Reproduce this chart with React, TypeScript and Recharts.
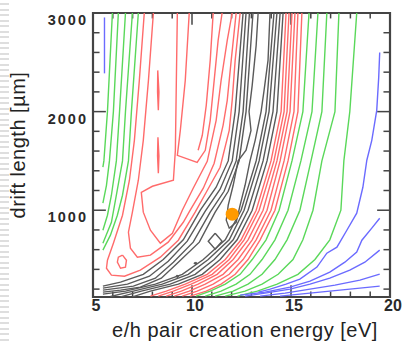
import React from 'react'
import { ComposedChart, Scatter, XAxis, YAxis, ReferenceLine, ReferenceArea } from 'recharts'

type Pt = [number, number]

// contour lines, [energy eV, drift length µm]
const grayLines: Pt[][] = [
  [[12.58, 3000], [12.18, 2000], [11.83, 1500], [11.22, 1233], [10.42, 1000], [9.56, 700], [8.55, 500], [7.54, 350], [6.39, 271], [5.5, 230]],
  [[12.73, 3000], [12.38, 2000], [12.03, 1500], [11.42, 1213], [10.67, 990], [9.76, 686], [8.8, 483], [7.85, 331], [6.74, 250], [5.5, 210]],
  [[12.9, 3000], [12.58, 2000], [12.23, 1500], [11.62, 1192], [10.92, 980], [10.06, 676], [9.06, 473], [8.15, 311], [7.04, 230], [5.5, 190]],
  [[13.08, 3000], [12.73, 2000], [12.38, 1500], [11.83, 1192], [11.17, 980], [10.37, 676], [9.31, 473], [8.45, 311], [7.39, 220], [6.39, 190], [5.5, 169]],
  // valley floor
  [[13.34, 3000], [13.24, 2672], [13.04, 2266], [12.88, 2000], [12.98, 1810], [12.73, 1608], [12.33, 1500], [12.08, 1253], [11.83, 1051], [11.73, 899], [11.88, 818],
   [12.23, 878], [12.43, 1051], [12.68, 1253], [12.93, 1500], [13.19, 1709], [13.49, 2000], [13.64, 2216], [13.84, 2520], [13.94, 3000]],
  [[11.17, 767], [11.52, 686], [11.17, 605], [10.82, 686], [11.17, 767]],
  [[10.18, 473], [10.24, 463], [10.18, 453], [10.12, 463], [10.18, 473]],
  [[9.26, 342], [9.31, 331], [9.26, 321], [9.21, 331], [9.26, 342]],
  [[14.14, 3000], [13.74, 2000], [13.24, 1500], [12.48, 1000], [11.68, 700], [10.57, 500], [9.51, 350], [8.15, 250], [6.64, 180], [5.5, 149]],
  [[14.29, 3000], [13.89, 2000], [13.39, 1500], [12.63, 1000], [11.88, 700], [10.82, 500], [9.81, 350], [8.5, 250], [7.04, 180], [5.88, 125]],
  [[14.45, 3000], [14.09, 2000], [13.59, 1500], [12.83, 1000], [12.08, 700], [11.12, 500], [10.16, 350], [8.9, 250], [7.44, 180], [6.39, 122]],
  [[14.6, 3000], [14.29, 2000], [13.79, 1500], [13.04, 1000], [12.28, 700], [11.42, 500], [10.52, 350], [9.31, 250], [7.9, 180], [6.99, 122]],
]

const redLines: Pt[][] = [
  [[7.59, 3000], [7.34, 2317], [7.09, 1709], [6.84, 1304], [6.49, 949], [6.03, 666], [5.73, 493], [5.68, 412], [5.93, 342], [6.59, 331], [7.39, 392],
   [8.4, 524], [9.31, 696], [10.16, 980], [10.72, 1182], [11.42, 1436], [11.88, 1810], [12.03, 2114], [12.18, 2520], [12.43, 3000]],
  [[8.05, 3000], [7.8, 2317], [7.54, 1709], [7.29, 1304], [6.99, 980], [6.79, 777], [6.89, 615], [7.24, 524], [7.9, 544], [8.8, 676], [9.56, 878],
   [9.91, 1000], [10.57, 1223], [11.12, 1476], [11.57, 1861], [11.78, 2114], [11.98, 2520], [12.23, 3000]],
  [[9.26, 3000], [9.21, 2317], [9.16, 1608], [9.06, 1304], [8.0, 1243], [7.44, 1182], [7.54, 980], [7.9, 797], [8.4, 666], [9.01, 767], [9.51, 1000],
   [10.06, 1223], [10.77, 1496], [11.22, 1912], [11.47, 2317], [11.78, 2722], [12.03, 3000]],
  [[9.86, 3000], [9.66, 2317], [9.41, 1810], [9.26, 1557], [10.26, 1486], [10.67, 1608], [10.92, 1912], [11.12, 2317], [11.32, 2722], [11.52, 3000]],
  [[11.07, 3000], [10.92, 2520], [10.72, 2064], [10.52, 1760], [10.31, 1608]],
  [[8.27, 2418], [8.33, 2200], [8.3, 2013], [8.26, 2200], [8.27, 2418]],
  [[8.28, 1740], [8.33, 1550], [8.3, 1375], [8.26, 1550], [8.28, 1740]],
  [[6.49, 544], [6.69, 493], [6.64, 423], [6.39, 412], [6.23, 473], [6.28, 524], [6.49, 544]],
  [[14.75, 3000], [14.5, 2000], [13.99, 1500], [13.24, 1000], [12.48, 700], [11.68, 500], [10.77, 350], [9.66, 250], [8.7, 180], [7.9, 129]],
  [[14.9, 3000], [14.65, 2000], [14.14, 1500], [13.39, 1000], [12.63, 700], [11.88, 500], [11.02, 350], [9.96, 250], [9.06, 180], [8.3, 129]],
  [[15.05, 3000], [14.8, 2000], [14.29, 1500], [13.59, 1000], [12.83, 700], [12.08, 500], [11.27, 350], [10.31, 250], [9.46, 180], [8.7, 129]],
  [[15.2, 3000], [14.95, 2000], [14.45, 1500], [13.79, 1000], [13.04, 700], [12.33, 500], [11.57, 350], [10.67, 250], [9.86, 180], [9.11, 129]],
  [[15.35, 3000], [15.15, 2000], [14.65, 1500], [13.99, 1000], [13.24, 700], [12.58, 500], [11.88, 350], [11.07, 250], [10.26, 180], [9.51, 129]],
  [[15.55, 3000], [15.35, 2000], [14.85, 1500], [14.19, 1000], [13.44, 700], [12.83, 500], [12.18, 350], [11.47, 250], [10.72, 180], [9.91, 129]],
]

const greenLines: Pt[][] = [
  [[5.98, 3000], [5.73, 2000], [5.55, 1500], [5.5, 1436]],
  [[6.28, 3000], [6.03, 2000], [5.83, 1500], [5.68, 1253], [5.5, 1071]],
  [[6.64, 3000], [6.34, 2000], [6.18, 1500], [5.93, 1152], [5.73, 949], [5.5, 797]],
  [[6.99, 3000], [6.64, 2000], [6.49, 1500], [6.18, 1152], [5.93, 878], [5.5, 666]],
  [[7.29, 3000], [6.94, 2000], [6.79, 1500], [6.49, 1152], [6.23, 949], [5.88, 747], [5.5, 595]],
  [[15.91, 3000], [15.6, 2000], [15.05, 1500], [14.4, 1000], [13.74, 700], [13.04, 500], [12.43, 350], [11.68, 250], [10.92, 180], [10.21, 129]],
  [[16.36, 3000], [16.06, 2000], [15.5, 1500], [14.85, 1000], [14.19, 700], [13.54, 500], [12.93, 350], [12.23, 250], [11.47, 180], [10.67, 129]],
  [[16.81, 3000], [16.56, 2000], [16.01, 1500], [15.45, 1000], [14.8, 700], [14.19, 500], [13.54, 350], [12.83, 250], [12.08, 180], [11.17, 129]],
  [[17.42, 3000], [17.22, 2000], [16.56, 1500], [16.11, 1000], [15.6, 700], [15.1, 500], [14.35, 350], [13.54, 250], [12.68, 180], [11.68, 129]],
  [[18.32, 3000], [17.97, 2000], [17.67, 1500], [17.52, 1000], [16.96, 700], [16.21, 500], [15.35, 350], [14.3, 250], [13.3, 180], [12.3, 129]],
]

const blueLines: Pt[][] = [
  [[5.58, 2955], [5.58, 2700], [5.58, 2388]],
  [[19.48, 2600], [19.43, 2347], [19.33, 2013], [19.08, 1709], [18.83, 1507], [18.63, 1233], [18.32, 970], [17.82, 797], [17.32, 625], [16.81, 564],
   [16.31, 423], [15.45, 301], [14.75, 250], [13.95, 200], [13.35, 169]],
  [[19.48, 919], [19.08, 818], [18.58, 696], [18.32, 575], [17.72, 473], [16.96, 372], [15.96, 281], [14.95, 220], [13.69, 169], [12.43, 139]],
  [[19.48, 595], [18.73, 473], [17.97, 392], [16.96, 311], [15.96, 250], [14.95, 200], [13.69, 159], [12.68, 129]],
  [[19.48, 352], [18.48, 291], [17.22, 240], [15.96, 200], [14.7, 159], [13.44, 129]],
  [[19.48, 230], [18.48, 210], [17.47, 190], [16.46, 169], [15.45, 149], [14.45, 129]],
]

const optimum = [{ x: 12.03, y: 960 }]

const xLabels = [5, 10, 15, 20]
const yLabels = [1000, 2000, 3000]
const xTickMarks = [6, 7, 8, 9, 10, 11, 12, 13, 14, 15, 16, 17, 18, 19]
const xMajor = [10, 15]
const yTickMarks = [200, 400, 600, 800, 1000, 1200, 1400, 1600, 1800, 2000, 2200, 2400, 2600, 2800]
const yMajor = [1000, 2000]

const X_DOMAIN: [number, number] = [5, 20]
const Y_DOMAIN: [number, number] = [120, 3000]

const FONT = "'Liberation Sans', Arial, Helvetica, sans-serif"
const AXIS = '#444'
const COLORS = { gray: '#5a5a5a', red: '#ff6b6b', green: '#5ad85a', blue: '#6b6bff' }

const toPoints = (pts: Pt[]) => pts.map(([x, y]) => ({ x, y }))
const noDot = () => <g />

const XTick = (p: any) => (
  <text x={p.x + 3} y={p.y} dy="0.71em" textAnchor="middle" fontSize={16} fontWeight="bold" fontFamily={FONT} fill="#2a2a2a">
    {p.payload.value}
  </text>
)

const YTick = (p: any) => (
  <text x={p.x} y={p.y + 12} textAnchor="end" fontSize={14.5} fontWeight="bold" letterSpacing={2} fontFamily={FONT} fill="#2a2a2a">
    {p.payload.value}
  </text>
)

const xTitle = (p: any) => {
  const vb = p?.viewBox ?? { x: 93, y: 297, width: 297 }
  return (
    <text x={vb.x + vb.width / 2 + 3.5} y={vb.y + 40} textAnchor="middle" fontSize={20} letterSpacing={0.5} fontFamily={FONT} fill="#222">
      e/h pair creation energy [eV]
    </text>
  )
}

const yTitle = (p: any) => {
  const vb = p?.viewBox ?? { x: 0, y: 13, height: 284 }
  const cx = vb.x + 24.5
  const cy = vb.y + vb.height / 2 - 10
  return (
    <text transform={`translate(${cx},${cy}) rotate(-90)`} textAnchor="middle" fontSize={20} letterSpacing={0.5} fontFamily={FONT} fill="#222">
      drift length [µm]
    </text>
  )
}

function contourSet(lines: Pt[][], color: string, id: string) {
  return lines.map((pts, i) => (
    <Scatter
      key={`${id}${i}`}
      data={toPoints(pts)}
      line={{ stroke: color, strokeWidth: 1.4 }}
      lineJointType="linear"
      shape={noDot}
      legendType="none"
      isAnimationActive={false}
    />
  ))
}

function tickMarks() {
  const out: any[] = []
  xTickMarks.forEach((x) => {
    const len = xMajor.includes(x) ? 120 : 55
    out.push(<ReferenceLine key={`b${x}`} segment={[{ x, y: 120 }, { x, y: 120 + len }]} stroke={AXIS} strokeWidth={1.5} />)
    out.push(<ReferenceLine key={`t${x}`} segment={[{ x, y: 3000 }, { x, y: 3000 - len }]} stroke={AXIS} strokeWidth={1.5} />)
  })
  yTickMarks.forEach((y) => {
    const len = yMajor.includes(y) ? 0.65 : 0.33
    out.push(<ReferenceLine key={`l${y}`} segment={[{ x: 5, y }, { x: 5 + len, y }]} stroke={AXIS} strokeWidth={1.5} />)
    out.push(<ReferenceLine key={`r${y}`} segment={[{ x: 20, y }, { x: 20 - len, y }]} stroke={AXIS} strokeWidth={1.5} />)
  })
  return out
}

export default function App() {
  return (
    <div style={{ position: 'absolute', left: 0, top: 0, width: 404, height: 342, background: '#fff' }}>
      <div
        style={{
          position: 'absolute', left: 0, top: 0, width: 9, height: 342,
          background: 'repeating-linear-gradient(to bottom, #fff 0px, #fff 3.5px, #dedede 3.5px, #dedede 5.5px)',
        }}
      />
      <ComposedChart width={404} height={342} margin={{ top: 13, right: 14, bottom: 0, left: 0 }}>
        <XAxis
          type="number" dataKey="x" domain={X_DOMAIN} ticks={xLabels} interval={0} allowDataOverflow
          tickLine={false} axisLine={false} tickSize={0} tickMargin={3} height={45} tick={XTick} label={xTitle}
        />
        <YAxis
          type="number" dataKey="y" domain={Y_DOMAIN} ticks={yLabels} interval={0} allowDataOverflow
          tickLine={false} axisLine={false} tickSize={0} tickMargin={5} width={93} tick={YTick} label={yTitle}
        />
        {contourSet(grayLines, COLORS.gray, 'k')}
        {contourSet(redLines, COLORS.red, 'r')}
        {contourSet(greenLines, COLORS.green, 'g')}
        {contourSet(blueLines, COLORS.blue, 'b')}
        <Scatter
          data={optimum}
          fill="#ff9a00"
          shape={(p: any) => <circle cx={p.cx} cy={p.cy} r={6.5} fill="#ff9a00" />}
          legendType="none"
          isAnimationActive={false}
        />
        <ReferenceArea x1={5} x2={20} y1={120} y2={3000} fill="none" stroke={AXIS} strokeWidth={2.2} />
        {tickMarks()}
      </ComposedChart>
    </div>
  )
}
